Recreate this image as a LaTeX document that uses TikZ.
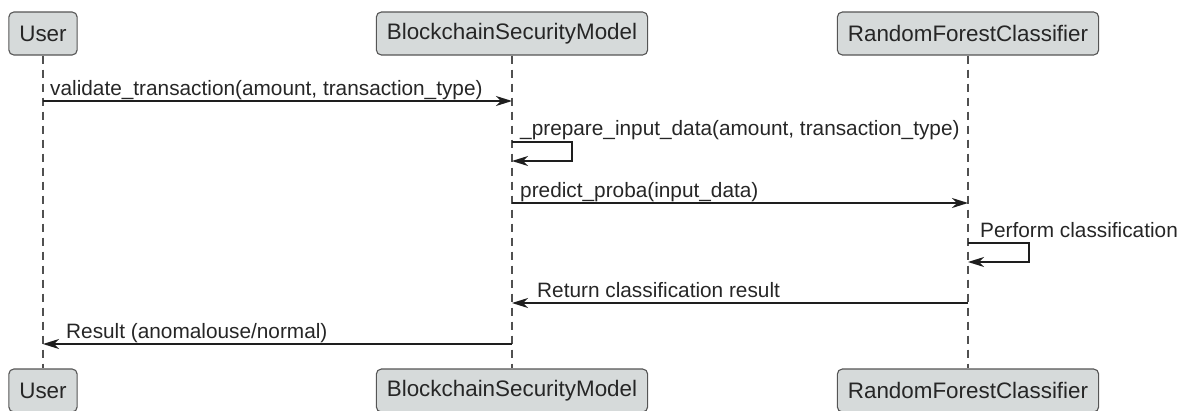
\documentclass[tikz,border=0pt]{standalone}
\usepackage{fontspec}
\setmainfont{Liberation Sans}
\usepackage{xcolor}
\usetikzlibrary{arrows.meta, positioning}
\definecolor{boxgray}{RGB}{214,218,218}
\definecolor{edgegray}{RGB}{85,85,85}
\definecolor{lifegray}{RGB}{80,80,80}
\definecolor{msgblack}{RGB}{30,30,30}

\begin{document}
\begin{tikzpicture}[x=1pt,y=-1pt,
          actor/.style={draw=edgegray,fill=boxgray,rounded corners=5pt,line width=1.1pt,
                        minimum height=43pt,inner xsep=10.5pt,inner ysep=0pt,
                        font=\fontsize{22.4}{26}\selectfont,text=black!85},
          life/.style={draw=lifegray,line width=1.4pt,dash pattern=on 8pt off 6pt},
          msg/.style={draw=msgblack,line width=1.5pt,
                      -{Stealth[length=16pt,width=10pt,inset=5pt]}},
          lbl/.style={anchor=base west,inner sep=0pt,
                      font=\fontsize{20.8}{24}\selectfont,text=black!85}]
        \useasboundingbox (0,0) rectangle (1182,410);
        \node[actor](user)  at (43,33.5){User};
        \node[actor](bsm)   at (512,33.5){BlockchainSecurityModel};
        \node[actor](rfc)   at (968,33.5){RandomForestClassifier};
        \node[actor](userB) at (43,390.5){User};
        \node[actor](bsmB)  at (512,390.5){BlockchainSecurityModel};
        \node[actor](rfcB)  at (968,390.5){RandomForestClassifier};
        \draw[life](user)--(userB);
        \draw[life](bsm)--(bsmB);
        \draw[life](rfc)--(rfcB);
        \draw[msg](user |- 0,101)--(bsm |- 0,101);
        \node[lbl](validate) at (50,95){validate\_transaction(amount, transaction\_type)};
        \draw[msg](bsm |- 0,142)-|(572,161)--(bsm |- 0,161);
        \node[lbl](prepare) at (520,135){\_prepare\_input\_data(amount, transaction\_type)};
        \draw[msg](bsm |- 0,203)--(rfc |- 0,203);
        \node[lbl](predict) at (520,197){predict\_proba(input\_data)};
        \draw[msg](rfc |- 0,243)-|(1029,262)--(rfc |- 0,262);
        \node[lbl](perform) at (980,237){Perform classification};
        \draw[msg](rfc |- 0,303)--(bsm |- 0,303);
        \node[lbl](ret) at (537,297){Return classification result};
        \draw[msg](bsm |- 0,344)--(user |- 0,344);
        \node[lbl](result) at (66,338){Result (anomalouse/normal)};
      \end{tikzpicture}
\end{document}
